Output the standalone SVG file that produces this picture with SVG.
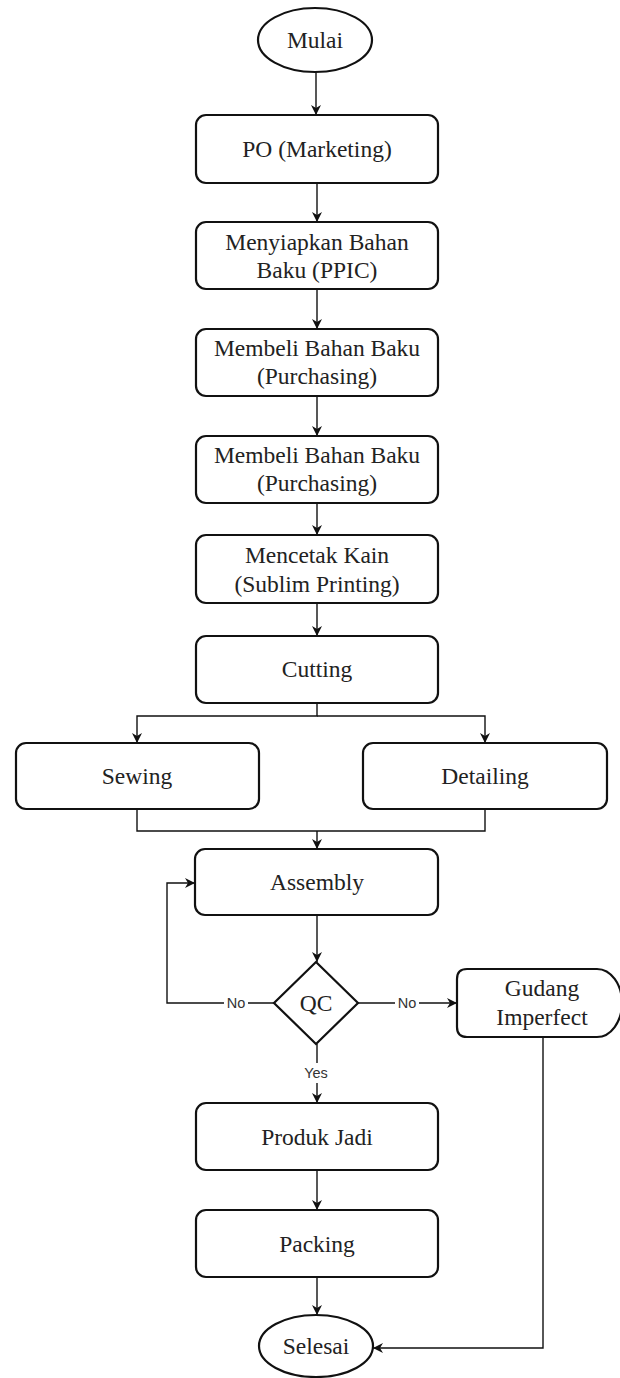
<svg xmlns="http://www.w3.org/2000/svg" width="620" height="1378" viewBox="0 0 620 1378">
<style>
.n{fill:#fff;stroke:#111;stroke-width:2.2}
.t{font-family:"Liberation Serif","Times New Roman",serif;font-size:23.5px;fill:#222;text-anchor:middle;dominant-baseline:central}
.c{fill:none;stroke:#111;stroke-width:1.4}
.lb{font-family:"Liberation Sans",Arial,sans-serif;font-size:14.5px;fill:#333;text-anchor:middle;dominant-baseline:central}
.bg{fill:#fff}
</style>
<defs>
<marker id="a" viewBox="0 0 10 10" refX="10" refY="5" markerWidth="10" markerHeight="10" markerUnits="userSpaceOnUse" orient="auto">
<path d="M0,0 L10,5 L0,10 L3,5 Z" fill="#111"/>
</marker>
</defs>
<rect width="620" height="1378" fill="#fff"/>
<g id="connectors">
<path class="c" d="M316,72 V115" marker-end="url(#a)"/>
<path class="c" d="M317,183 V222" marker-end="url(#a)"/>
<path class="c" d="M317,289 V329" marker-end="url(#a)"/>
<path class="c" d="M317,396 V436" marker-end="url(#a)"/>
<path class="c" d="M317,503 V535" marker-end="url(#a)"/>
<path class="c" d="M317,603 V636" marker-end="url(#a)"/>
<path class="c" d="M317,703 V716 H137 V743" marker-end="url(#a)"/>
<path class="c" d="M317,716 H485 V743" marker-end="url(#a)"/>
<path class="c" d="M137,809 V831 H485 V809"/>
<path class="c" d="M317,831 V849" marker-end="url(#a)"/>
<path class="c" d="M317,915 V962" marker-end="url(#a)"/>
<path class="c" d="M274,1003 H167 V883 H195" marker-end="url(#a)"/>
<path class="c" d="M358,1003 H457" marker-end="url(#a)"/>
<path class="c" d="M317,1044 V1103" marker-end="url(#a)"/>
<path class="c" d="M317,1170 V1210" marker-end="url(#a)"/>
<path class="c" d="M317,1277 V1315" marker-end="url(#a)"/>
<path class="c" d="M543,1036 V1348 H373" marker-end="url(#a)"/>
<rect class="bg" x="224" y="993" width="24" height="20"/>
<text class="lb" x="236" y="1003">No</text>
<rect class="bg" x="395" y="993" width="24" height="20"/>
<text class="lb" x="407" y="1003">No</text>
<rect class="bg" x="302" y="1063" width="28" height="20"/>
<text class="lb" x="316" y="1073">Yes</text>
</g>
<g id="mulai">
<ellipse class="n" cx="315" cy="40" rx="57" ry="32"/>
<text class="t" x="315" y="40">Mulai</text>
</g>
<g id="po">
<rect class="n" x="196" y="115" width="242" height="68" rx="10"/>
<text class="t" x="317" y="149">PO (Marketing)</text>
</g>
<g id="menyiapkan">
<rect class="n" x="196" y="222" width="242" height="67" rx="10"/>
<text class="t" x="317" y="242">Menyiapkan Bahan</text>
<text class="t" x="317" y="270">Baku (PPIC)</text>
</g>
<g id="membeli1">
<rect class="n" x="196" y="329" width="242" height="67" rx="10"/>
<text class="t" x="317" y="348">Membeli Bahan Baku</text>
<text class="t" x="317" y="376">(Purchasing)</text>
</g>
<g id="membeli2">
<rect class="n" x="196" y="436" width="242" height="67" rx="10"/>
<text class="t" x="317" y="455">Membeli Bahan Baku</text>
<text class="t" x="317" y="483">(Purchasing)</text>
</g>
<g id="mencetak">
<rect class="n" x="196" y="535" width="242" height="68" rx="10"/>
<text class="t" x="317" y="555">Mencetak Kain</text>
<text class="t" x="317" y="584">(Sublim Printing)</text>
</g>
<g id="cutting">
<rect class="n" x="196" y="636" width="242" height="67" rx="10"/>
<text class="t" x="317" y="669">Cutting</text>
</g>
<g id="sewing">
<rect class="n" x="16" y="743" width="243" height="66" rx="10"/>
<text class="t" x="137" y="776">Sewing</text>
</g>
<g id="detailing">
<rect class="n" x="363" y="743" width="244" height="66" rx="10"/>
<text class="t" x="485" y="776">Detailing</text>
</g>
<g id="assembly">
<rect class="n" x="195" y="849" width="243" height="66" rx="10"/>
<text class="t" x="317" y="882">Assembly</text>
</g>
<g id="qc">
<polygon class="n" points="316,962 358,1003 316,1044 274,1003"/>
<text class="t" x="316" y="1003">QC</text>
</g>
<g id="gudang">
<path class="n" d="M467,969 H597 A25 34 0 0 1 597,1037 H467 Q457,1037 457,1027 V979 Q457,969 467,969 Z"/>
<text class="t" x="542" y="988">Gudang</text>
<text class="t" x="542" y="1017">Imperfect</text>
</g>
<g id="produk">
<rect class="n" x="196" y="1103" width="242" height="67" rx="10"/>
<text class="t" x="317" y="1137">Produk Jadi</text>
</g>
<g id="packing">
<rect class="n" x="196" y="1210" width="242" height="67" rx="10"/>
<text class="t" x="317" y="1244">Packing</text>
</g>
<g id="selesai">
<ellipse class="n" cx="316" cy="1346" rx="57" ry="31"/>
<text class="t" x="316" y="1346">Selesai</text>
</g>
</svg>
